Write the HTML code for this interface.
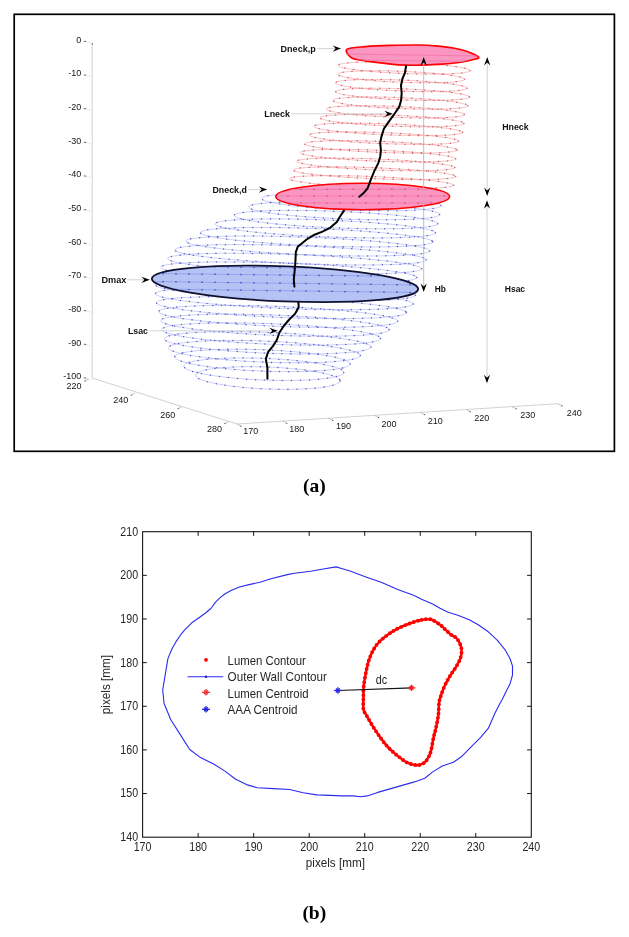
<!DOCTYPE html>
<html><head><meta charset="utf-8"><style>
html,body{margin:0;padding:0;background:#fff;}
svg{display:block;will-change:transform;}
text{font-family:"Liberation Sans",sans-serif;}
.t8{font-size:9px;fill:#151515;}
.tb{font-size:9.4px;font-weight:bold;fill:#111;}
.t11{font-size:12.8px;fill:#262626;}
.cap{font-family:"Liberation Serif",serif;font-weight:bold;font-size:19.5px;fill:#000;}
</style></head><body>
<svg width="629" height="937" viewBox="0 0 629 937">
<rect width="629" height="937" fill="#fff"/>
<rect x="14.2" y="14.3" width="600.2" height="437" fill="none" stroke="#000" stroke-width="1.7"/>
<line x1="92.2" y1="44" x2="92.2" y2="378" stroke="#d9d9d9" stroke-width="1.2"/><circle cx="92.3" cy="43.9" r="0.8" fill="#777"/>
<polyline points="92,378 237,424 558,403.7" fill="none" stroke="#d2d2d2" stroke-width="1"/>
<text x="81.3" y="42.8" class="t8" text-anchor="end">0</text>
<line x1="83.8" y1="41.3" x2="86.3" y2="41.5" stroke="#666" stroke-width="1"/><line x1="86.3" y1="41.5" x2="92" y2="43.4" stroke="#e4e4e4" stroke-width="0.8"/>
<text x="81.3" y="76.46" class="t8" text-anchor="end">-10</text>
<line x1="83.8" y1="74.96" x2="86.3" y2="75.16" stroke="#666" stroke-width="1"/><line x1="86.3" y1="75.16" x2="92" y2="77.06" stroke="#e4e4e4" stroke-width="0.8"/>
<text x="81.3" y="110.12" class="t8" text-anchor="end">-20</text>
<line x1="83.8" y1="108.62" x2="86.3" y2="108.82" stroke="#666" stroke-width="1"/><line x1="86.3" y1="108.82" x2="92" y2="110.72" stroke="#e4e4e4" stroke-width="0.8"/>
<text x="81.3" y="143.78" class="t8" text-anchor="end">-30</text>
<line x1="83.8" y1="142.28" x2="86.3" y2="142.48" stroke="#666" stroke-width="1"/><line x1="86.3" y1="142.48" x2="92" y2="144.38" stroke="#e4e4e4" stroke-width="0.8"/>
<text x="81.3" y="177.44" class="t8" text-anchor="end">-40</text>
<line x1="83.8" y1="175.94" x2="86.3" y2="176.14" stroke="#666" stroke-width="1"/><line x1="86.3" y1="176.14" x2="92" y2="178.04" stroke="#e4e4e4" stroke-width="0.8"/>
<text x="81.3" y="211.1" class="t8" text-anchor="end">-50</text>
<line x1="83.8" y1="209.6" x2="86.3" y2="209.8" stroke="#666" stroke-width="1"/><line x1="86.3" y1="209.8" x2="92" y2="211.7" stroke="#e4e4e4" stroke-width="0.8"/>
<text x="81.3" y="244.76" class="t8" text-anchor="end">-60</text>
<line x1="83.8" y1="243.26" x2="86.3" y2="243.46" stroke="#666" stroke-width="1"/><line x1="86.3" y1="243.46" x2="92" y2="245.36" stroke="#e4e4e4" stroke-width="0.8"/>
<text x="81.3" y="278.42" class="t8" text-anchor="end">-70</text>
<line x1="83.8" y1="276.92" x2="86.3" y2="277.12" stroke="#666" stroke-width="1"/><line x1="86.3" y1="277.12" x2="92" y2="279.02" stroke="#e4e4e4" stroke-width="0.8"/>
<text x="81.3" y="312.08" class="t8" text-anchor="end">-80</text>
<line x1="83.8" y1="310.58" x2="86.3" y2="310.78" stroke="#666" stroke-width="1"/><line x1="86.3" y1="310.78" x2="92" y2="312.68" stroke="#e4e4e4" stroke-width="0.8"/>
<text x="81.3" y="345.74" class="t8" text-anchor="end">-90</text>
<line x1="83.8" y1="344.24" x2="86.3" y2="344.44" stroke="#666" stroke-width="1"/><line x1="86.3" y1="344.44" x2="92" y2="346.34" stroke="#e4e4e4" stroke-width="0.8"/>
<text x="81.3" y="379.4" class="t8" text-anchor="end">-100</text>
<line x1="83.8" y1="377.9" x2="86.3" y2="378.1" stroke="#666" stroke-width="1"/><line x1="86.3" y1="378.1" x2="92" y2="380" stroke="#e4e4e4" stroke-width="0.8"/>
<text x="74" y="388.6" class="t8" text-anchor="middle">220</text>
<text x="120.7" y="403.2" class="t8" text-anchor="middle">240</text>
<text x="167.75" y="417.65" class="t8" text-anchor="middle">260</text>
<text x="214.4" y="431.75" class="t8" text-anchor="middle">280</text>
<text x="250.7" y="434.4" class="t8" text-anchor="middle">170</text>
<text x="296.75" y="431.8" class="t8" text-anchor="middle">180</text>
<text x="343.5" y="428.7" class="t8" text-anchor="middle">190</text>
<text x="389" y="426.9" class="t8" text-anchor="middle">200</text>
<text x="435.3" y="424.3" class="t8" text-anchor="middle">210</text>
<text x="481.7" y="421.3" class="t8" text-anchor="middle">220</text>
<text x="527.8" y="418.3" class="t8" text-anchor="middle">230</text>
<text x="574.3" y="415.9" class="t8" text-anchor="middle">240</text>
<line x1="88.5" y1="379" x2="85" y2="381" stroke="#b0b0b0" stroke-width="0.8"/><circle cx="85" cy="381" r="0.65" fill="#555"/>
<line x1="134.8" y1="393.1" x2="131.3" y2="395.1" stroke="#b0b0b0" stroke-width="0.8"/><circle cx="131.3" cy="395.1" r="0.65" fill="#555"/>
<line x1="181.7" y1="406.6" x2="178.2" y2="408.6" stroke="#b0b0b0" stroke-width="0.8"/><circle cx="178.2" cy="408.6" r="0.65" fill="#555"/>
<line x1="228.4" y1="421.5" x2="224.9" y2="423.5" stroke="#b0b0b0" stroke-width="0.8"/><circle cx="224.9" cy="423.5" r="0.65" fill="#555"/>
<line x1="237" y1="424" x2="241" y2="426.2" stroke="#b0b0b0" stroke-width="0.8"/><circle cx="241" cy="426.2" r="0.65" fill="#555"/>
<line x1="282.86" y1="421.1" x2="286.86" y2="423.3" stroke="#b0b0b0" stroke-width="0.8"/><circle cx="286.86" cy="423.3" r="0.65" fill="#555"/>
<line x1="328.72" y1="418.2" x2="332.72" y2="420.4" stroke="#b0b0b0" stroke-width="0.8"/><circle cx="332.72" cy="420.4" r="0.65" fill="#555"/>
<line x1="374.58" y1="415.3" x2="378.58" y2="417.5" stroke="#b0b0b0" stroke-width="0.8"/><circle cx="378.58" cy="417.5" r="0.65" fill="#555"/>
<line x1="420.44" y1="412.4" x2="424.44" y2="414.6" stroke="#b0b0b0" stroke-width="0.8"/><circle cx="424.44" cy="414.6" r="0.65" fill="#555"/>
<line x1="466.3" y1="409.5" x2="470.3" y2="411.7" stroke="#b0b0b0" stroke-width="0.8"/><circle cx="470.3" cy="411.7" r="0.65" fill="#555"/>
<line x1="512.16" y1="406.6" x2="516.16" y2="408.8" stroke="#b0b0b0" stroke-width="0.8"/><circle cx="516.16" cy="408.8" r="0.65" fill="#555"/>
<line x1="558.02" y1="403.7" x2="562.02" y2="405.9" stroke="#b0b0b0" stroke-width="0.8"/><circle cx="562.02" cy="405.9" r="0.65" fill="#555"/>
<g fill="none">
<ellipse cx="351.32" cy="202" rx="89.85" ry="8" transform="rotate(2.29 351.32 202)" stroke="#a4a8ee" stroke-width="0.9" opacity="0.6"/>
<ellipse cx="351.32" cy="202" rx="89.85" ry="8" transform="rotate(2.29 351.32 202)" stroke="#3434cc" stroke-width="1.5" stroke-linecap="round" stroke-dasharray="0 9" opacity="0.75"/>
<ellipse cx="344.11" cy="210.8" rx="95.52" ry="8.15" transform="rotate(2.29 344.11 210.8)" stroke="#a4a8ee" stroke-width="0.9" opacity="0.6"/>
<ellipse cx="344.11" cy="210.8" rx="95.52" ry="8.15" transform="rotate(2.29 344.11 210.8)" stroke="#3434cc" stroke-width="1.5" stroke-linecap="round" stroke-dasharray="0 9" opacity="0.75"/>
<ellipse cx="335.94" cy="219.6" rx="101.9" ry="8.3" transform="rotate(2.29 335.94 219.6)" stroke="#a4a8ee" stroke-width="0.9" opacity="0.6"/>
<ellipse cx="335.94" cy="219.6" rx="101.9" ry="8.3" transform="rotate(2.29 335.94 219.6)" stroke="#3434cc" stroke-width="1.5" stroke-linecap="round" stroke-dasharray="0 9" opacity="0.75"/>
<ellipse cx="325.25" cy="228.4" rx="110.31" ry="8.45" transform="rotate(2.29 325.25 228.4)" stroke="#a4a8ee" stroke-width="0.9" opacity="0.6"/>
<ellipse cx="325.25" cy="228.4" rx="110.31" ry="8.45" transform="rotate(2.29 325.25 228.4)" stroke="#3434cc" stroke-width="1.5" stroke-linecap="round" stroke-dasharray="0 9" opacity="0.75"/>
<ellipse cx="316.52" cy="237.2" rx="116.29" ry="8.6" transform="rotate(2.29 316.52 237.2)" stroke="#a4a8ee" stroke-width="0.9" opacity="0.6"/>
<ellipse cx="316.52" cy="237.2" rx="116.29" ry="8.6" transform="rotate(2.29 316.52 237.2)" stroke="#3434cc" stroke-width="1.5" stroke-linecap="round" stroke-dasharray="0 9" opacity="0.75"/>
<ellipse cx="307.7" cy="246" rx="122.08" ry="8.75" transform="rotate(2.29 307.7 246)" stroke="#a4a8ee" stroke-width="0.9" opacity="0.6"/>
<ellipse cx="307.7" cy="246" rx="122.08" ry="8.75" transform="rotate(2.29 307.7 246)" stroke="#3434cc" stroke-width="1.5" stroke-linecap="round" stroke-dasharray="0 9" opacity="0.75"/>
<ellipse cx="300.36" cy="254.8" rx="125.93" ry="8.9" transform="rotate(2.29 300.36 254.8)" stroke="#a4a8ee" stroke-width="0.9" opacity="0.6"/>
<ellipse cx="300.36" cy="254.8" rx="125.93" ry="8.9" transform="rotate(2.29 300.36 254.8)" stroke="#3434cc" stroke-width="1.5" stroke-linecap="round" stroke-dasharray="0 9" opacity="0.75"/>
<ellipse cx="294.66" cy="263.6" rx="127.14" ry="9.05" transform="rotate(2.29 294.66 263.6)" stroke="#a4a8ee" stroke-width="0.9" opacity="0.6"/>
<ellipse cx="294.66" cy="263.6" rx="127.14" ry="9.05" transform="rotate(2.29 294.66 263.6)" stroke="#3434cc" stroke-width="1.5" stroke-linecap="round" stroke-dasharray="0 9" opacity="0.75"/>
<ellipse cx="288.88" cy="272.4" rx="128.06" ry="9.2" transform="rotate(2.29 288.88 272.4)" stroke="#a4a8ee" stroke-width="0.9" opacity="0.6"/>
<ellipse cx="288.88" cy="272.4" rx="128.06" ry="9.2" transform="rotate(2.29 288.88 272.4)" stroke="#3434cc" stroke-width="1.5" stroke-linecap="round" stroke-dasharray="0 9" opacity="0.75"/>
<ellipse cx="285.79" cy="281.2" rx="130.49" ry="9.35" transform="rotate(2.29 285.79 281.2)" stroke="#a4a8ee" stroke-width="0.9" opacity="0.6"/>
<ellipse cx="285.79" cy="281.2" rx="130.49" ry="9.35" transform="rotate(2.29 285.79 281.2)" stroke="#3434cc" stroke-width="1.5" stroke-linecap="round" stroke-dasharray="0 9" opacity="0.75"/>
<ellipse cx="285.4" cy="290" rx="130.1" ry="9.5" transform="rotate(2.29 285.4 290)" stroke="#a4a8ee" stroke-width="0.9" opacity="0.6"/>
<ellipse cx="285.4" cy="290" rx="130.1" ry="9.5" transform="rotate(2.29 285.4 290)" stroke="#3434cc" stroke-width="1.5" stroke-linecap="round" stroke-dasharray="0 9" opacity="0.75"/>
<ellipse cx="284.33" cy="298.8" rx="129.03" ry="9.65" transform="rotate(2.29 284.33 298.8)" stroke="#a4a8ee" stroke-width="0.9" opacity="0.6"/>
<ellipse cx="284.33" cy="298.8" rx="129.03" ry="9.65" transform="rotate(2.29 284.33 298.8)" stroke="#3434cc" stroke-width="1.5" stroke-linecap="round" stroke-dasharray="0 9" opacity="0.75"/>
<ellipse cx="281.33" cy="307.6" rx="125.07" ry="9.8" transform="rotate(2.29 281.33 307.6)" stroke="#a4a8ee" stroke-width="0.9" opacity="0.6"/>
<ellipse cx="281.33" cy="307.6" rx="125.07" ry="9.8" transform="rotate(2.29 281.33 307.6)" stroke="#3434cc" stroke-width="1.5" stroke-linecap="round" stroke-dasharray="0 9" opacity="0.75"/>
<ellipse cx="278.28" cy="316.4" rx="119.62" ry="9.95" transform="rotate(2.29 278.28 316.4)" stroke="#a4a8ee" stroke-width="0.9" opacity="0.6"/>
<ellipse cx="278.28" cy="316.4" rx="119.62" ry="9.95" transform="rotate(2.29 278.28 316.4)" stroke="#3434cc" stroke-width="1.5" stroke-linecap="round" stroke-dasharray="0 9" opacity="0.75"/>
<ellipse cx="274.99" cy="325.2" rx="114.27" ry="10.1" transform="rotate(2.29 274.99 325.2)" stroke="#a4a8ee" stroke-width="0.9" opacity="0.6"/>
<ellipse cx="274.99" cy="325.2" rx="114.27" ry="10.1" transform="rotate(2.29 274.99 325.2)" stroke="#3434cc" stroke-width="1.5" stroke-linecap="round" stroke-dasharray="0 9" opacity="0.75"/>
<ellipse cx="271.09" cy="334" rx="109.53" ry="10.25" transform="rotate(2.29 271.09 334)" stroke="#a4a8ee" stroke-width="0.9" opacity="0.6"/>
<ellipse cx="271.09" cy="334" rx="109.53" ry="10.25" transform="rotate(2.29 271.09 334)" stroke="#3434cc" stroke-width="1.5" stroke-linecap="round" stroke-dasharray="0 9" opacity="0.75"/>
<ellipse cx="267.61" cy="342.8" rx="103.42" ry="10.4" transform="rotate(2.29 267.61 342.8)" stroke="#a4a8ee" stroke-width="0.9" opacity="0.6"/>
<ellipse cx="267.61" cy="342.8" rx="103.42" ry="10.4" transform="rotate(2.29 267.61 342.8)" stroke="#3434cc" stroke-width="1.5" stroke-linecap="round" stroke-dasharray="0 9" opacity="0.75"/>
<ellipse cx="264.45" cy="351.6" rx="95.99" ry="10.55" transform="rotate(2.29 264.45 351.6)" stroke="#a4a8ee" stroke-width="0.9" opacity="0.6"/>
<ellipse cx="264.45" cy="351.6" rx="95.99" ry="10.55" transform="rotate(2.29 264.45 351.6)" stroke="#3434cc" stroke-width="1.5" stroke-linecap="round" stroke-dasharray="0 9" opacity="0.75"/>
<ellipse cx="262.43" cy="360.4" rx="87.85" ry="10.7" transform="rotate(2.29 262.43 360.4)" stroke="#a4a8ee" stroke-width="0.9" opacity="0.6"/>
<ellipse cx="262.43" cy="360.4" rx="87.85" ry="10.7" transform="rotate(2.29 262.43 360.4)" stroke="#3434cc" stroke-width="1.5" stroke-linecap="round" stroke-dasharray="0 9" opacity="0.75"/>
<ellipse cx="263.77" cy="369.2" rx="80.04" ry="10.85" transform="rotate(2.29 263.77 369.2)" stroke="#a4a8ee" stroke-width="0.9" opacity="0.6"/>
<ellipse cx="263.77" cy="369.2" rx="80.04" ry="10.85" transform="rotate(2.29 263.77 369.2)" stroke="#3434cc" stroke-width="1.5" stroke-linecap="round" stroke-dasharray="0 9" opacity="0.75"/>
<ellipse cx="267.75" cy="378" rx="72.45" ry="11" transform="rotate(2.29 267.75 378)" stroke="#a4a8ee" stroke-width="0.9" opacity="0.6"/>
<ellipse cx="267.75" cy="378" rx="72.45" ry="11" transform="rotate(2.29 267.75 378)" stroke="#3434cc" stroke-width="1.5" stroke-linecap="round" stroke-dasharray="0 9" opacity="0.75"/>
</g>
<g fill="none">
<ellipse cx="404.07" cy="68" rx="66.07" ry="5.5" transform="rotate(2.29 404.07 68)" stroke="#ef9494" stroke-width="0.9" opacity="0.6"/>
<ellipse cx="404.07" cy="68" rx="66.07" ry="5.5" transform="rotate(2.29 404.07 68)" stroke="#d8344a" stroke-width="1.5" stroke-linecap="round" stroke-dasharray="0 9" opacity="0.75"/>
<ellipse cx="400.96" cy="76.77" rx="63.59" ry="5.5" transform="rotate(2.29 400.96 76.77)" stroke="#ef9494" stroke-width="0.9" opacity="0.6"/>
<ellipse cx="400.96" cy="76.77" rx="63.59" ry="5.5" transform="rotate(2.29 400.96 76.77)" stroke="#d8344a" stroke-width="1.5" stroke-linecap="round" stroke-dasharray="0 9" opacity="0.75"/>
<ellipse cx="401.1" cy="85.54" rx="65.96" ry="5.5" transform="rotate(2.29 401.1 85.54)" stroke="#ef9494" stroke-width="0.9" opacity="0.6"/>
<ellipse cx="401.1" cy="85.54" rx="65.96" ry="5.5" transform="rotate(2.29 401.1 85.54)" stroke="#d8344a" stroke-width="1.5" stroke-linecap="round" stroke-dasharray="0 9" opacity="0.75"/>
<ellipse cx="402.55" cy="94.31" rx="66.95" ry="5.5" transform="rotate(2.29 402.55 94.31)" stroke="#ef9494" stroke-width="0.9" opacity="0.6"/>
<ellipse cx="402.55" cy="94.31" rx="66.95" ry="5.5" transform="rotate(2.29 402.55 94.31)" stroke="#d8344a" stroke-width="1.5" stroke-linecap="round" stroke-dasharray="0 9" opacity="0.75"/>
<ellipse cx="400.26" cy="103.08" rx="67.53" ry="5.5" transform="rotate(2.29 400.26 103.08)" stroke="#ef9494" stroke-width="0.9" opacity="0.6"/>
<ellipse cx="400.26" cy="103.08" rx="67.53" ry="5.5" transform="rotate(2.29 400.26 103.08)" stroke="#d8344a" stroke-width="1.5" stroke-linecap="round" stroke-dasharray="0 9" opacity="0.75"/>
<ellipse cx="395.18" cy="111.85" rx="69.19" ry="5.5" transform="rotate(2.29 395.18 111.85)" stroke="#ef9494" stroke-width="0.9" opacity="0.6"/>
<ellipse cx="395.18" cy="111.85" rx="69.19" ry="5.5" transform="rotate(2.29 395.18 111.85)" stroke="#d8344a" stroke-width="1.5" stroke-linecap="round" stroke-dasharray="0 9" opacity="0.75"/>
<ellipse cx="391.87" cy="120.62" rx="72.12" ry="5.5" transform="rotate(2.29 391.87 120.62)" stroke="#ef9494" stroke-width="0.9" opacity="0.6"/>
<ellipse cx="391.87" cy="120.62" rx="72.12" ry="5.5" transform="rotate(2.29 391.87 120.62)" stroke="#d8344a" stroke-width="1.5" stroke-linecap="round" stroke-dasharray="0 9" opacity="0.75"/>
<ellipse cx="388.05" cy="129.38" rx="74.58" ry="5.5" transform="rotate(2.29 388.05 129.38)" stroke="#ef9494" stroke-width="0.9" opacity="0.6"/>
<ellipse cx="388.05" cy="129.38" rx="74.58" ry="5.5" transform="rotate(2.29 388.05 129.38)" stroke="#d8344a" stroke-width="1.5" stroke-linecap="round" stroke-dasharray="0 9" opacity="0.75"/>
<ellipse cx="383.85" cy="138.15" rx="74.79" ry="5.5" transform="rotate(2.29 383.85 138.15)" stroke="#ef9494" stroke-width="0.9" opacity="0.6"/>
<ellipse cx="383.85" cy="138.15" rx="74.79" ry="5.5" transform="rotate(2.29 383.85 138.15)" stroke="#d8344a" stroke-width="1.5" stroke-linecap="round" stroke-dasharray="0 9" opacity="0.75"/>
<ellipse cx="380.83" cy="146.92" rx="76.3" ry="5.5" transform="rotate(2.29 380.83 146.92)" stroke="#ef9494" stroke-width="0.9" opacity="0.6"/>
<ellipse cx="380.83" cy="146.92" rx="76.3" ry="5.5" transform="rotate(2.29 380.83 146.92)" stroke="#d8344a" stroke-width="1.5" stroke-linecap="round" stroke-dasharray="0 9" opacity="0.75"/>
<ellipse cx="377.79" cy="155.69" rx="77.97" ry="5.5" transform="rotate(2.29 377.79 155.69)" stroke="#ef9494" stroke-width="0.9" opacity="0.6"/>
<ellipse cx="377.79" cy="155.69" rx="77.97" ry="5.5" transform="rotate(2.29 377.79 155.69)" stroke="#d8344a" stroke-width="1.5" stroke-linecap="round" stroke-dasharray="0 9" opacity="0.75"/>
<ellipse cx="375.65" cy="164.46" rx="79.15" ry="5.5" transform="rotate(2.29 375.65 164.46)" stroke="#ef9494" stroke-width="0.9" opacity="0.6"/>
<ellipse cx="375.65" cy="164.46" rx="79.15" ry="5.5" transform="rotate(2.29 375.65 164.46)" stroke="#d8344a" stroke-width="1.5" stroke-linecap="round" stroke-dasharray="0 9" opacity="0.75"/>
<ellipse cx="374.5" cy="173.23" rx="81.17" ry="5.5" transform="rotate(2.29 374.5 173.23)" stroke="#ef9494" stroke-width="0.9" opacity="0.6"/>
<ellipse cx="374.5" cy="173.23" rx="81.17" ry="5.5" transform="rotate(2.29 374.5 173.23)" stroke="#d8344a" stroke-width="1.5" stroke-linecap="round" stroke-dasharray="0 9" opacity="0.75"/>
<ellipse cx="371.48" cy="182" rx="82.15" ry="5.5" transform="rotate(2.29 371.48 182)" stroke="#ef9494" stroke-width="0.9" opacity="0.6"/>
<ellipse cx="371.48" cy="182" rx="82.15" ry="5.5" transform="rotate(2.29 371.48 182)" stroke="#d8344a" stroke-width="1.5" stroke-linecap="round" stroke-dasharray="0 9" opacity="0.75"/>
</g>
<path d="M347,49.2 C349.33,47.35 358.08,47.23 365.4,46.6 C372.72,45.97 381.8,45.67 390.9,45.4 C400,45.13 412.58,44.92 420,45 C427.42,45.08 429.65,45.37 435.4,45.9 C441.15,46.43 449.2,47.28 454.5,48.2 C459.8,49.12 463.17,49.92 467.2,51.4 C471.23,52.88 477.63,55.73 478.7,57.1 C479.77,58.47 476.57,58.75 473.6,59.6 C470.63,60.45 466.2,61.45 460.9,62.2 C455.6,62.95 448.17,63.62 441.8,64.1 C435.43,64.58 428.83,64.93 422.7,65.1 C416.57,65.27 410.3,65.27 405,65.1 C399.7,64.93 397.5,64.8 390.9,64.1 C384.3,63.4 371.98,61.97 365.4,60.9 C358.82,59.83 354.47,59.65 351.4,57.7 C348.33,55.75 344.67,51.05 347,49.2 Z" fill="#fb8fbf" fill-opacity="0.95" stroke="#f00" stroke-width="1.6" stroke-linejoin="round"/>
<ellipse cx="362.7" cy="196.5" rx="86.9" ry="13.2" transform="rotate(0 362.7 196.5)" fill="#fb8fbf" fill-opacity="0.95" stroke="#f00" stroke-width="1.6"/>
<defs><clipPath id="cpB"><ellipse cx="285" cy="283.9" rx="132" ry="16.5" transform="rotate(2.24 285 283.9)"/></clipPath><clipPath id="cpP"><ellipse cx="362.7" cy="196.5" rx="86" ry="12.3"/></clipPath><clipPath id="cpT"><path d="M347,49.2 C349.33,47.35 358.08,47.23 365.4,46.6 C372.72,45.97 381.8,45.67 390.9,45.4 C400,45.13 412.58,44.92 420,45 C427.42,45.08 429.65,45.37 435.4,45.9 C441.15,46.43 449.2,47.28 454.5,48.2 C459.8,49.12 463.17,49.92 467.2,51.4 C471.23,52.88 477.63,55.73 478.7,57.1 C479.77,58.47 476.57,58.75 473.6,59.6 C470.63,60.45 466.2,61.45 460.9,62.2 C455.6,62.95 448.17,63.62 441.8,64.1 C435.43,64.58 428.83,64.93 422.7,65.1 C416.57,65.27 410.3,65.27 405,65.1 C399.7,64.93 397.5,64.8 390.9,64.1 C384.3,63.4 371.98,61.97 365.4,60.9 C358.82,59.83 354.47,59.65 351.4,57.7 C348.33,55.75 344.67,51.05 347,49.2 Z"/></clipPath></defs>
<ellipse cx="285" cy="283.9" rx="133.3" ry="17.5" transform="rotate(2.24 285 283.9)" fill="#b2c1f4" fill-opacity="0.95" stroke="#101030" stroke-width="1.8"/>
<g clip-path="url(#cpB)" fill="none">
<line x1="150" y1="266" x2="420" y2="269.5" stroke="#8f9fe6" stroke-width="0.9"/>
<line x1="150" y1="266" x2="420" y2="269.5" stroke="#3a3ac0" stroke-width="1.7" stroke-linecap="round" stroke-dasharray="0 13" opacity="0.8"/>
<line x1="150" y1="273.5" x2="420" y2="276.5" stroke="#8f9fe6" stroke-width="0.9"/>
<line x1="150" y1="273.5" x2="420" y2="276.5" stroke="#3a3ac0" stroke-width="1.7" stroke-linecap="round" stroke-dasharray="0 13" opacity="0.8"/>
<line x1="150" y1="281.5" x2="420" y2="285" stroke="#8f9fe6" stroke-width="0.9"/>
<line x1="150" y1="281.5" x2="420" y2="285" stroke="#3a3ac0" stroke-width="1.7" stroke-linecap="round" stroke-dasharray="0 13" opacity="0.8"/>
<line x1="150" y1="289" x2="420" y2="292.5" stroke="#8f9fe6" stroke-width="0.9"/>
<line x1="150" y1="289" x2="420" y2="292.5" stroke="#3a3ac0" stroke-width="1.7" stroke-linecap="round" stroke-dasharray="0 13" opacity="0.8"/>
</g>
<g clip-path="url(#cpP)" fill="none">
<line x1="275" y1="189.5" x2="450" y2="189" stroke="#f07aa8" stroke-width="0.9"/>
<line x1="275" y1="189.5" x2="450" y2="189" stroke="#d03050" stroke-width="1.6" stroke-linecap="round" stroke-dasharray="0 13" opacity="0.7"/>
<line x1="275" y1="196" x2="450" y2="196" stroke="#f07aa8" stroke-width="0.9"/>
<line x1="275" y1="196" x2="450" y2="196" stroke="#d03050" stroke-width="1.6" stroke-linecap="round" stroke-dasharray="0 13" opacity="0.7"/>
<line x1="275" y1="203" x2="450" y2="203" stroke="#f07aa8" stroke-width="0.9"/>
<line x1="275" y1="203" x2="450" y2="203" stroke="#d03050" stroke-width="1.6" stroke-linecap="round" stroke-dasharray="0 13" opacity="0.7"/>
</g>
<g clip-path="url(#cpT)" fill="none">
<line x1="345" y1="54" x2="480" y2="56" stroke="#f07aa8" stroke-width="0.9"/>
<line x1="345" y1="60" x2="480" y2="61.5" stroke="#f07aa8" stroke-width="0.9"/>
</g>
<polyline points="406.1,65.8 404.9,72.8 402.3,79.2 401,85.5 401.7,93.2 401,100.8 399.1,107.1 394.7,113.5 388.3,122.4 383.9,128.8 381.5,136.4 380.2,142.7 380.9,150.3 380.2,156.7 378.3,163.1 374.5,170.7 371.3,178.3 369.4,183.4 367.5,188.5 363.1,193.6 359.3,196.8" fill="none" stroke="#000" stroke-width="2" stroke-linejoin="round" stroke-linecap="round"/>
<polyline points="343.9,210.9 340,216.5 336.8,222 330.4,227.6 322.5,231.6 314.5,234.7 306.6,239.5 297.8,246.7 295.8,252.2 295.4,261.8 294.6,271.3 293.8,279.3 294.4,286.6" fill="none" stroke="#000" stroke-width="2" stroke-linejoin="round" stroke-linecap="round"/>
<polyline points="298.4,302.5 298.7,307.3 295.2,313.6 288.8,320 284.1,325.5 279.3,332.7 276.9,339.8 272.9,346.2 268.2,351.8 265.8,358.9 267.4,367.7 267.4,378.8" fill="none" stroke="#000" stroke-width="2" stroke-linejoin="round" stroke-linecap="round"/>
<line x1="317" y1="48.6" x2="337" y2="48.6" stroke="#cfcfcf" stroke-width="0.9"/><path d="M341,48.6 L332.6,51.7 L335.6,48.6 L332.6,45.5 Z" fill="#000"/>
<line x1="291" y1="113.8" x2="388.8" y2="113.8" stroke="#cfcfcf" stroke-width="0.9"/><path d="M392.8,113.8 L384.4,116.9 L387.4,113.8 L384.4,110.7 Z" fill="#000"/>
<line x1="248" y1="189.6" x2="263.2" y2="189.6" stroke="#cfcfcf" stroke-width="0.9"/><path d="M267.2,189.6 L258.8,192.7 L261.8,189.6 L258.8,186.5 Z" fill="#000"/>
<line x1="127" y1="279.8" x2="145.8" y2="279.8" stroke="#cfcfcf" stroke-width="0.9"/><path d="M149.8,279.8 L141.4,282.9 L144.4,279.8 L141.4,276.7 Z" fill="#000"/>
<line x1="150" y1="330.8" x2="273.7" y2="330.8" stroke="#cfcfcf" stroke-width="0.9"/><path d="M277.7,330.8 L269.3,333.9 L272.3,330.8 L269.3,327.7 Z" fill="#000"/>
<line x1="423.7" y1="60.1" x2="423.7" y2="289" stroke="#b8b8b8" stroke-width="0.9"/><path d="M423.7,57.1 L426.8,65.5 L423.7,62.5 L420.6,65.5 Z" fill="#000"/><path d="M423.7,292 L420.6,283.6 L423.7,286.6 L426.8,283.6 Z" fill="#000"/>
<line x1="487.2" y1="60" x2="487.2" y2="192.9" stroke="#cccccc" stroke-width="0.9"/><path d="M487.2,57 L490.3,65.4 L487.2,62.4 L484.1,65.4 Z" fill="#000"/><path d="M487.2,195.9 L484.1,187.5 L487.2,190.5 L490.3,187.5 Z" fill="#000"/>
<line x1="487" y1="203.3" x2="487" y2="380.2" stroke="#cccccc" stroke-width="0.9"/><path d="M487,200.3 L490.1,208.7 L487,205.7 L483.9,208.7 Z" fill="#000"/><path d="M487,383.2 L483.9,374.8 L487,377.8 L490.1,374.8 Z" fill="#000"/>
<text x="280.6" y="52.3" class="tb" textLength="35.1" lengthAdjust="spacingAndGlyphs">Dneck,p</text>
<text x="264.2" y="116.7" class="tb" textLength="25.8" lengthAdjust="spacingAndGlyphs">Lneck</text>
<text x="212.5" y="192.8" class="tb" textLength="34.3" lengthAdjust="spacingAndGlyphs">Dneck,d</text>
<text x="101.4" y="283" class="tb" textLength="25" lengthAdjust="spacingAndGlyphs">Dmax</text>
<text x="127.9" y="333.8" class="tb" textLength="20" lengthAdjust="spacingAndGlyphs">Lsac</text>
<text x="434.8" y="291.6" class="tb" textLength="11.1" lengthAdjust="spacingAndGlyphs">Hb</text>
<text x="502.2" y="129.9" class="tb" textLength="26.5" lengthAdjust="spacingAndGlyphs">Hneck</text>
<text x="504.8" y="292.2" class="tb" textLength="20.3" lengthAdjust="spacingAndGlyphs">Hsac</text>
<text x="314.3" y="491.6" class="cap" text-anchor="middle">(a)</text>
<rect x="142.6" y="531.7" width="388.7" height="305.5" fill="none" stroke="#151515" stroke-width="1.1"/>
<text x="133.7" y="851" class="t11" textLength="17.8" lengthAdjust="spacingAndGlyphs">170</text>
<line x1="198.13" y1="837.2" x2="198.13" y2="833" stroke="#151515" stroke-width="1"/>
<line x1="198.13" y1="531.7" x2="198.13" y2="535.9" stroke="#151515" stroke-width="1"/>
<text x="189.23" y="851" class="t11" textLength="17.8" lengthAdjust="spacingAndGlyphs">180</text>
<line x1="253.66" y1="837.2" x2="253.66" y2="833" stroke="#151515" stroke-width="1"/>
<line x1="253.66" y1="531.7" x2="253.66" y2="535.9" stroke="#151515" stroke-width="1"/>
<text x="244.76" y="851" class="t11" textLength="17.8" lengthAdjust="spacingAndGlyphs">190</text>
<line x1="309.19" y1="837.2" x2="309.19" y2="833" stroke="#151515" stroke-width="1"/>
<line x1="309.19" y1="531.7" x2="309.19" y2="535.9" stroke="#151515" stroke-width="1"/>
<text x="300.29" y="851" class="t11" textLength="17.8" lengthAdjust="spacingAndGlyphs">200</text>
<line x1="364.71" y1="837.2" x2="364.71" y2="833" stroke="#151515" stroke-width="1"/>
<line x1="364.71" y1="531.7" x2="364.71" y2="535.9" stroke="#151515" stroke-width="1"/>
<text x="355.81" y="851" class="t11" textLength="17.8" lengthAdjust="spacingAndGlyphs">210</text>
<line x1="420.24" y1="837.2" x2="420.24" y2="833" stroke="#151515" stroke-width="1"/>
<line x1="420.24" y1="531.7" x2="420.24" y2="535.9" stroke="#151515" stroke-width="1"/>
<text x="411.34" y="851" class="t11" textLength="17.8" lengthAdjust="spacingAndGlyphs">220</text>
<line x1="475.77" y1="837.2" x2="475.77" y2="833" stroke="#151515" stroke-width="1"/>
<line x1="475.77" y1="531.7" x2="475.77" y2="535.9" stroke="#151515" stroke-width="1"/>
<text x="466.87" y="851" class="t11" textLength="17.8" lengthAdjust="spacingAndGlyphs">230</text>
<text x="522.4" y="851" class="t11" textLength="17.8" lengthAdjust="spacingAndGlyphs">240</text>
<text x="120.3" y="841.1" class="t11" textLength="17.8" lengthAdjust="spacingAndGlyphs">140</text>
<line x1="142.6" y1="793.56" x2="146.8" y2="793.56" stroke="#151515" stroke-width="1"/>
<line x1="531.3" y1="793.56" x2="527.1" y2="793.56" stroke="#151515" stroke-width="1"/>
<text x="120.3" y="797.46" class="t11" textLength="17.8" lengthAdjust="spacingAndGlyphs">150</text>
<line x1="142.6" y1="749.91" x2="146.8" y2="749.91" stroke="#151515" stroke-width="1"/>
<line x1="531.3" y1="749.91" x2="527.1" y2="749.91" stroke="#151515" stroke-width="1"/>
<text x="120.3" y="753.81" class="t11" textLength="17.8" lengthAdjust="spacingAndGlyphs">160</text>
<line x1="142.6" y1="706.27" x2="146.8" y2="706.27" stroke="#151515" stroke-width="1"/>
<line x1="531.3" y1="706.27" x2="527.1" y2="706.27" stroke="#151515" stroke-width="1"/>
<text x="120.3" y="710.17" class="t11" textLength="17.8" lengthAdjust="spacingAndGlyphs">170</text>
<line x1="142.6" y1="662.63" x2="146.8" y2="662.63" stroke="#151515" stroke-width="1"/>
<line x1="531.3" y1="662.63" x2="527.1" y2="662.63" stroke="#151515" stroke-width="1"/>
<text x="120.3" y="666.53" class="t11" textLength="17.8" lengthAdjust="spacingAndGlyphs">180</text>
<line x1="142.6" y1="618.99" x2="146.8" y2="618.99" stroke="#151515" stroke-width="1"/>
<line x1="531.3" y1="618.99" x2="527.1" y2="618.99" stroke="#151515" stroke-width="1"/>
<text x="120.3" y="622.89" class="t11" textLength="17.8" lengthAdjust="spacingAndGlyphs">190</text>
<line x1="142.6" y1="575.34" x2="146.8" y2="575.34" stroke="#151515" stroke-width="1"/>
<line x1="531.3" y1="575.34" x2="527.1" y2="575.34" stroke="#151515" stroke-width="1"/>
<text x="120.3" y="579.24" class="t11" textLength="17.8" lengthAdjust="spacingAndGlyphs">200</text>
<text x="120.3" y="535.6" class="t11" textLength="17.8" lengthAdjust="spacingAndGlyphs">210</text>
<text x="305.8" y="866.5" class="t11" textLength="59.1" lengthAdjust="spacingAndGlyphs">pixels [mm]</text>
<text transform="translate(110 714.2) rotate(-90)" x="0" y="0" class="t11" textLength="59.3" lengthAdjust="spacingAndGlyphs">pixels [mm]</text>
<polygon points="336.1,566.9 344,569.3 350,571 365.9,576.9 381.8,582.5 397.7,589.6 413.6,595.2 421.5,599.2 432.7,604 440,608.3 447.6,612.1 457.8,615.3 469.3,619.7 478.2,624.8 488.3,631.8 497.2,640.1 504.9,649.6 510,658.5 512.5,666.1 512.5,675 510,683.9 506.1,691.6 502.3,699.2 499.5,704.3 494.7,713.8 488.4,728.2 480.4,737.7 470.9,747.2 461.3,756.8 453.4,762.3 442.3,766 432.7,771.9 424.8,778.2 414.4,781.9 402.2,785.4 390,788.9 377.7,792.4 367.2,795.9 360.2,796.7 353.2,795.9 341,795.9 330,795.4 316.8,794.9 303.2,792.7 289.7,789.5 273.5,788.6 257.3,787.8 246.5,784.6 235.7,779.2 224.9,771.1 214.1,764.3 200.5,757.6 189.7,749.5 180.3,734.6 170.8,719.7 164.1,703.5 162.7,690 165,676.2 167.9,658.6 171.9,649 175.9,641.9 180.7,634.7 185.4,629.2 191.8,622.8 199.7,617.2 206.1,612.5 210.9,608.5 215.6,602.1 220.4,597.4 225.2,593.7 231.5,590.2 239.5,587 249,584.6 260,582.3 270.9,578.8 288.4,574.4 294.7,573.3 310.6,571.2 321.8,569.3" fill="none" stroke="#2b2bf0" stroke-width="1.1" stroke-linejoin="round"/>
<path d="M421.5,619.9 C424.85,619.32 428.02,618.68 431.1,619.5 C434.18,620.32 437.67,623.17 440,624.8 C442.33,626.43 443.2,627.6 445.1,629.3 C447,631 449.5,633.52 451.4,635 C453.3,636.48 455.02,636.62 456.5,638.2 C457.98,639.78 459.45,642.38 460.3,644.5 C461.15,646.62 461.6,648.57 461.6,650.9 C461.6,653.23 461.15,655.97 460.3,658.5 C459.45,661.03 457.98,663.55 456.5,666.1 C455.02,668.65 452.88,671.47 451.4,673.8 C449.92,676.13 448.87,677.77 447.6,680.1 C446.33,682.43 444.97,685.03 443.8,687.8 C442.63,690.57 441.38,694.22 440.6,696.7 C439.82,699.18 439.48,699.58 439.1,702.7 C438.72,705.82 438.83,711.15 438.3,715.4 C437.77,719.65 436.7,724.48 435.9,728.2 C435.1,731.92 434.3,734 433.5,737.7 C432.7,741.4 431.9,747.22 431.1,750.4 C430.3,753.58 429.75,754.82 428.7,756.8 C427.65,758.78 426.25,760.98 424.8,762.3 C423.35,763.62 421.43,764.22 420,764.7 C418.57,765.18 418.33,765.55 416.2,765.2 C414.07,764.85 410.28,764.15 407.2,762.6 C404.12,761.05 400.87,758.43 397.7,755.9 C394.53,753.37 391.07,750.42 388.2,747.4 C385.33,744.38 383.05,741.3 380.5,737.8 C377.95,734.3 375.28,730.22 372.9,726.4 C370.52,722.58 367.78,717.77 366.2,714.9 C364.62,712.03 363.87,712.05 363.4,709.2 C362.93,706.35 363.35,701.62 363.4,697.8 C363.45,693.98 363.23,690.77 363.7,686.3 C364.17,681.83 365.3,675.45 366.2,671 C367.1,666.55 367.83,663.25 369.1,659.6 C370.37,655.95 372.05,652.12 373.8,649.1 C375.55,646.08 377.05,644.05 379.6,641.5 C382.15,638.95 385.93,636.03 389.1,633.8 C392.27,631.57 394.95,629.9 398.6,628.1 C402.25,626.3 407.18,624.37 411,623 C414.82,621.63 418.15,620.48 421.5,619.9 Z" fill="none" stroke="#f00" stroke-width="2.4" stroke-linejoin="round"/>
<path d="M421.5,619.9 C424.85,619.32 428.02,618.68 431.1,619.5 C434.18,620.32 437.67,623.17 440,624.8 C442.33,626.43 443.2,627.6 445.1,629.3 C447,631 449.5,633.52 451.4,635 C453.3,636.48 455.02,636.62 456.5,638.2 C457.98,639.78 459.45,642.38 460.3,644.5 C461.15,646.62 461.6,648.57 461.6,650.9 C461.6,653.23 461.15,655.97 460.3,658.5 C459.45,661.03 457.98,663.55 456.5,666.1 C455.02,668.65 452.88,671.47 451.4,673.8 C449.92,676.13 448.87,677.77 447.6,680.1 C446.33,682.43 444.97,685.03 443.8,687.8 C442.63,690.57 441.38,694.22 440.6,696.7 C439.82,699.18 439.48,699.58 439.1,702.7 C438.72,705.82 438.83,711.15 438.3,715.4 C437.77,719.65 436.7,724.48 435.9,728.2 C435.1,731.92 434.3,734 433.5,737.7 C432.7,741.4 431.9,747.22 431.1,750.4 C430.3,753.58 429.75,754.82 428.7,756.8 C427.65,758.78 426.25,760.98 424.8,762.3 C423.35,763.62 421.43,764.22 420,764.7 C418.57,765.18 418.33,765.55 416.2,765.2 C414.07,764.85 410.28,764.15 407.2,762.6 C404.12,761.05 400.87,758.43 397.7,755.9 C394.53,753.37 391.07,750.42 388.2,747.4 C385.33,744.38 383.05,741.3 380.5,737.8 C377.95,734.3 375.28,730.22 372.9,726.4 C370.52,722.58 367.78,717.77 366.2,714.9 C364.62,712.03 363.87,712.05 363.4,709.2 C362.93,706.35 363.35,701.62 363.4,697.8 C363.45,693.98 363.23,690.77 363.7,686.3 C364.17,681.83 365.3,675.45 366.2,671 C367.1,666.55 367.83,663.25 369.1,659.6 C370.37,655.95 372.05,652.12 373.8,649.1 C375.55,646.08 377.05,644.05 379.6,641.5 C382.15,638.95 385.93,636.03 389.1,633.8 C392.27,631.57 394.95,629.9 398.6,628.1 C402.25,626.3 407.18,624.37 411,623 C414.82,621.63 418.15,620.48 421.5,619.9 Z" fill="none" stroke="#f00" stroke-width="3.9" stroke-linecap="round" stroke-dasharray="0 4.4"/>
<line x1="337.9" y1="690.5" x2="412" y2="687.8" stroke="#111" stroke-width="1.2"/>
<text x="375.8" y="683.9" class="t11" textLength="11.4" lengthAdjust="spacingAndGlyphs">dc</text>
<g stroke="#2828e0" stroke-width="1.3"><line x1="333.9" y1="690.5" x2="341.9" y2="690.5"/><line x1="337.9" y1="687.3" x2="337.9" y2="693.7"/><line x1="335.98" y1="688.58" x2="339.82" y2="692.42"/><line x1="335.98" y1="692.42" x2="339.82" y2="688.58"/></g>
<g stroke="#ee2020" stroke-width="1.3"><line x1="407.5" y1="687.9" x2="415.5" y2="687.9"/><line x1="411.5" y1="684.7" x2="411.5" y2="691.1"/><line x1="409.58" y1="685.98" x2="413.42" y2="689.82"/><line x1="409.58" y1="689.82" x2="413.42" y2="685.98"/></g>
<circle cx="206" cy="659.8" r="1.9" fill="#f00"/>
<line x1="187.6" y1="676.8" x2="223.2" y2="676.8" stroke="#2b2bf0" stroke-width="1.1"/><circle cx="206" cy="676.8" r="1.2" fill="#2020c0"/>
<g stroke="#ee3030" stroke-width="1.3"><line x1="202" y1="692.3" x2="210" y2="692.3"/><line x1="206" y1="689.1" x2="206" y2="695.5"/><line x1="204.08" y1="690.38" x2="207.92" y2="694.22"/><line x1="204.08" y1="694.22" x2="207.92" y2="690.38"/></g>
<g stroke="#2020e0" stroke-width="1.3"><line x1="202" y1="709.3" x2="210" y2="709.3"/><line x1="206" y1="706.1" x2="206" y2="712.5"/><line x1="204.08" y1="707.38" x2="207.92" y2="711.22"/><line x1="204.08" y1="711.22" x2="207.92" y2="707.38"/></g>
<text x="227.6" y="664.6" class="t11" textLength="78.3" lengthAdjust="spacingAndGlyphs">Lumen Contour</text>
<text x="227.6" y="681.2" class="t11" textLength="99.4" lengthAdjust="spacingAndGlyphs">Outer Wall Contour</text>
<text x="227.6" y="697.7" class="t11" textLength="80.9" lengthAdjust="spacingAndGlyphs">Lumen Centroid</text>
<text x="227.6" y="713.6" class="t11" textLength="69.9" lengthAdjust="spacingAndGlyphs">AAA Centroid</text>
<text x="314.3" y="918.5" class="cap" text-anchor="middle">(b)</text>
</svg>
</body></html>
